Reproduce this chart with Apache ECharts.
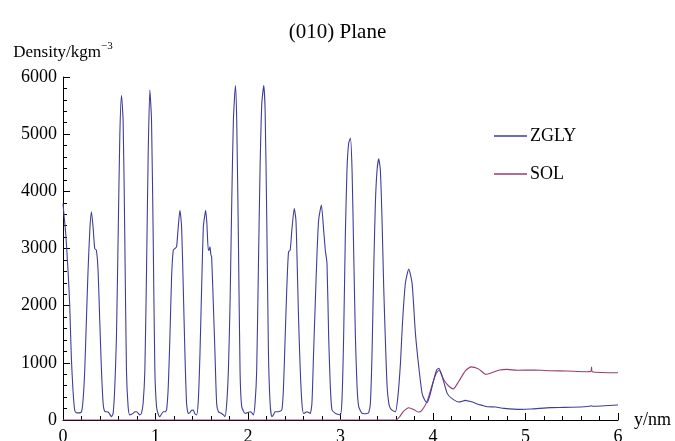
<!DOCTYPE html>
<html>
<head>
<meta charset="utf-8">
<script src="https://cdn.jsdelivr.net/npm/echarts@6/dist/echarts.min.js"></script>
<style>
html,body{margin:0;padding:0;background:#fff;}
#chart{width:675px;height:441px;}
</style>
</head>
<body>
<div id="chart"></div>
<script>
// ---- data ----
const titleText = '(010) Plane';
const seriesNames = ['ZGLY', 'SOL'];
const xTicks = [0, 1, 2, 3, 4, 5, 6];
const yTicks = [0, 1000, 2000, 3000, 4000, 5000, 6000];

const zglyX = [0.000,0.010,0.030,0.054,0.072,0.090,0.108,0.126,0.144,0.170,0.199,0.217,0.235,0.253,0.271,0.290,0.307,0.325,0.343,0.361,0.379,0.397,0.416,0.434,0.452,0.488,0.510,0.524,0.542,0.560,0.578,0.596,0.614,0.632,0.650,0.668,0.686,0.704,0.722,0.758,0.777,0.795,0.830,0.848,0.866,0.885,0.903,0.921,0.939,0.957,0.975,0.993,1.011,1.030,1.047,1.083,1.102,1.120,1.138,1.156,1.174,1.192,1.210,1.228,1.246,1.264,1.282,1.300,1.318,1.336,1.354,1.372,1.390,1.408,1.426,1.445,1.463,1.481,1.499,1.517,1.530,1.542,1.555,1.571,1.580,1.589,1.598,1.607,1.625,1.643,1.661,1.680,1.715,1.735,1.751,1.770,1.788,1.806,1.824,1.842,1.864,1.878,1.896,1.914,1.932,1.968,2.000,2.022,2.040,2.058,2.076,2.094,2.112,2.130,2.149,2.170,2.185,2.203,2.221,2.239,2.257,2.275,2.293,2.329,2.366,2.384,2.402,2.420,2.438,2.456,2.474,2.500,2.518,2.529,2.547,2.565,2.583,2.601,2.620,2.637,2.655,2.673,2.691,2.709,2.727,2.746,2.764,2.793,2.818,2.836,2.854,2.872,2.890,2.908,2.944,2.970,2.998,3.016,3.034,3.052,3.070,3.088,3.107,3.125,3.143,3.161,3.179,3.197,3.233,3.260,3.287,3.305,3.323,3.341,3.359,3.377,3.395,3.413,3.431,3.449,3.467,3.485,3.504,3.522,3.540,3.570,3.594,3.620,3.648,3.670,3.702,3.738,3.774,3.810,3.846,3.882,3.910,3.936,3.972,4.008,4.040,4.063,4.100,4.153,4.207,4.280,4.352,4.388,4.425,4.479,4.533,4.587,4.677,4.768,4.948,5.057,5.273,5.418,5.635,5.707,5.714,5.722,6.000];
const zglyY = [3790,3600,3250,2620,2040,1100,520,175,128,125,140,350,870,1750,2620,3320,3640,3380,3000,2970,2620,1750,870,290,150,140,90,58,115,580,1460,3200,4950,5680,5240,3200,870,233,90,116,145,145,90,120,290,870,2620,4660,5770,5240,3200,870,233,100,58,145,145,175,583,1460,2505,2970,3000,3030,3380,3670,3380,2330,1170,290,115,130,170,175,110,90,350,1170,2330,3380,3550,3670,3450,2970,2980,3030,2900,2850,2040,1170,290,145,115,90,58,290,870,2040,3790,5240,5850,5240,3200,870,233,115,130,145,130,90,290,870,2620,4370,5530,5850,5420,3500,1170,290,58,90,145,145,175,583,1460,2330,2940,2970,3320,3700,3500,2910,1750,870,290,115,130,145,130,115,290,1170,2040,2910,3500,3760,3320,2970,2740,1460,583,175,115,100,90,350,1460,3200,4370,4840,4930,4370,2910,1460,583,233,115,110,115,130,290,1170,2620,3790,4370,4570,4370,3500,2330,1400,583,290,200,160,146,400,991,1700,2400,2640,2389,1515,932,466,350,303,466,700,880,903,758,466,373,315,344,330,315,280,256,233,227,204,186,192,216,221,233,245,250,240,262];

const solX = [0.000,3.600,3.640,3.680,3.738,3.790,3.840,3.880,3.937,3.991,4.030,4.065,4.118,4.172,4.220,4.280,4.350,4.410,4.496,4.570,4.640,4.720,4.800,4.912,5.093,5.273,5.454,5.635,5.706,5.714,5.722,6.000];
const solY = [0,0,60,150,215,185,140,170,330,612,800,870,700,590,545,680,860,930,890,800,830,875,885,870,874,862,856,845,848,925,845,827];

const colors = ['#3f3d99', '#993d74'];
const FONT = 'Liberation Serif';

function pairs(xs, ys) { return xs.map((x, i) => [x, ys[i]]); }

const chart = echarts.init(document.getElementById('chart'), null, {renderer: 'canvas'});
chart.setOption({
  animation: false,
  backgroundColor: '#ffffff',
  textStyle: {fontFamily: FONT},
  title: {
    text: titleText,
    left: 'center',
    top: 22,
    padding: 0,
    textStyle: {fontFamily: FONT, fontSize: 21, fontWeight: 'normal', color: '#000'}
  },
  legend: {
    orient: 'vertical',
    left: 494,
    top: 127,
    padding: 0,
    icon: 'rect',
    itemWidth: 33,
    itemHeight: 1.5,
    itemGap: 20,
    data: seriesNames,
    textStyle: {fontFamily: FONT, fontSize: 18, color: '#000', padding: [0, 0, 0, -2]},
  },
  grid: {left: 63, right: 57, top: 77, bottom: 21, containLabel: false, outerBoundsMode: 'none'},
  xAxis: {
    type: 'value',
    min: xTicks[0],
    max: xTicks[xTicks.length - 1],
    interval: 1,
    name: 'y/nm',
    nameLocation: 'end',
    nameGap: 16,
    nameTextStyle: {fontFamily: FONT, fontSize: 18, color: '#000', verticalAlign: 'middle'},
    axisLine: {show: true, lineStyle: {color: '#000', width: 1}},
    axisTick: {show: true, inside: true, length: 7, lineStyle: {color: '#000'}},
    minorTick: {show: true, splitNumber: 5, length: 4, lineStyle: {color: '#000'}},
    splitLine: {show: false},
    axisLabel: {fontFamily: FONT, fontSize: 18, color: '#000', margin: 8, formatter: v => String(v)}
  },
  yAxis: {
    type: 'value',
    min: yTicks[0],
    max: yTicks[yTicks.length - 1],
    interval: 1000,
    name: '{a|Density/kgm}{b|\u22123}',
    nameLocation: 'end',
    nameGap: 16,
    nameTextStyle: {
      fontFamily: FONT,
      rich: {
        a: {fontFamily: FONT, fontSize: 17, color: '#000', lineHeight: 20, verticalAlign: 'bottom'},
        b: {fontFamily: FONT, fontSize: 11, color: '#000', lineHeight: 12, verticalAlign: 'top'}
      }
    },
    axisLine: {show: true, lineStyle: {color: '#000', width: 1}},
    axisTick: {show: true, inside: true, length: 7, lineStyle: {color: '#000'}},
    minorTick: {show: true, splitNumber: 5, length: 4, lineStyle: {color: '#000'}},
    splitLine: {show: false},
    axisLabel: {fontFamily: FONT, fontSize: 18, color: '#000', margin: 6, formatter: v => String(v)}
  },
  series: [
    {
      name: seriesNames[0], type: 'line', data: pairs(zglyX, zglyY),
      symbol: 'none', smooth: 0.2, color: colors[0],
      lineStyle: {color: colors[0], width: 1.1}, z: 3
    },
    {
      name: seriesNames[1], type: 'line', data: pairs(solX, solY),
      symbol: 'none', smooth: 0.2, color: colors[1],
      lineStyle: {color: colors[1], width: 1.1}, z: 2
    }
  ]
});
</script>
</body>
</html>
